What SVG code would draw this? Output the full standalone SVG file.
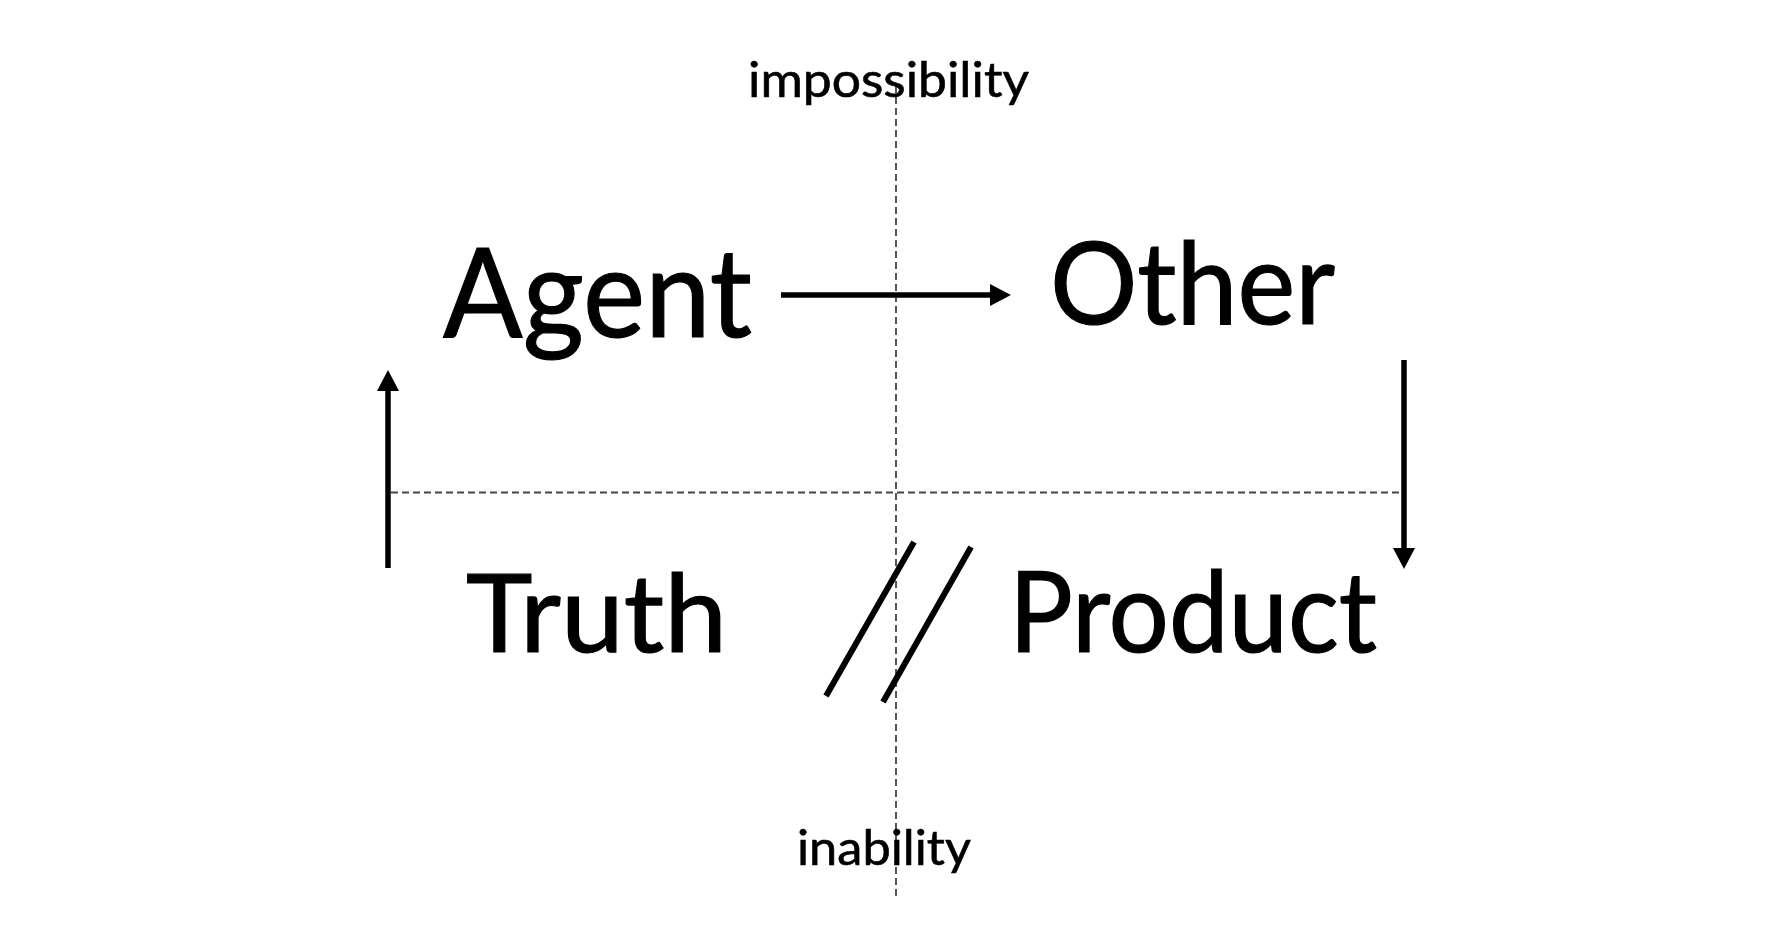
<svg xmlns="http://www.w3.org/2000/svg" width="1790" height="933" viewBox="0 0 1790 933">
<defs>
<style>
.big{font-family:Lato,"Open Sans","Liberation Sans",sans-serif;fill:#000;stroke:#000;stroke-width:1.2}
.small{font-family:Lato,"Open Sans","Liberation Sans",sans-serif;fill:#000;font-size:48px;stroke:#000;stroke-width:0.6}
.guide{stroke:#444;stroke-width:1.8;stroke-dasharray:7 4;fill:none}
.arrow{stroke:#000;stroke-width:5.5;fill:none}
.slash{stroke:#000;stroke-width:6;fill:none}
</style>
<marker id="head" markerUnits="userSpaceOnUse" markerWidth="22" markerHeight="22" viewBox="0 0 20 21" refX="0" refY="10.5" orient="auto">
<path d="M0,0 L20,10.5 L0,21 Z" fill="#000"/>
</marker>
</defs>
<rect width="1790" height="933" fill="#fff"/>
<g id="guides">
<line class="guide" x1="896" y1="86" x2="896" y2="897"/>
<line class="guide" x1="391" y1="492.5" x2="1404" y2="492.5"/>
</g>
<g id="label-impossibility"><text class="small" x="748" y="97" textLength="281" lengthAdjust="spacingAndGlyphs">impossibility</text></g>
<g id="label-inability"><text class="small" x="797" y="865" textLength="174" lengthAdjust="spacingAndGlyphs">inability</text></g>
<g id="node-agent"><text class="big" x="443" y="336.5" font-size="125" textLength="309" lengthAdjust="spacingAndGlyphs">Agent</text></g>
<g id="node-other"><text class="big" x="1050" y="324" font-size="114" textLength="285" lengthAdjust="spacingAndGlyphs">Other</text></g>
<g id="node-truth"><text class="big" x="466" y="652" font-size="109" textLength="261" lengthAdjust="spacingAndGlyphs">Truth</text></g>
<g id="node-product"><text class="big" x="1009" y="652" font-size="112" textLength="368" lengthAdjust="spacingAndGlyphs">Product</text></g>
<g id="connectors">
<line class="arrow" x1="781" y1="295" x2="990" y2="295" marker-end="url(#head)"/>
<line class="arrow" x1="388" y1="568" x2="388" y2="391" marker-end="url(#head)"/>
<line class="arrow" x1="1404" y1="360" x2="1404" y2="548" marker-end="url(#head)"/>
<line class="slash" x1="826" y1="696" x2="914" y2="542"/>
<line class="slash" x1="883" y1="702" x2="971" y2="547"/>
</g>
</svg>
